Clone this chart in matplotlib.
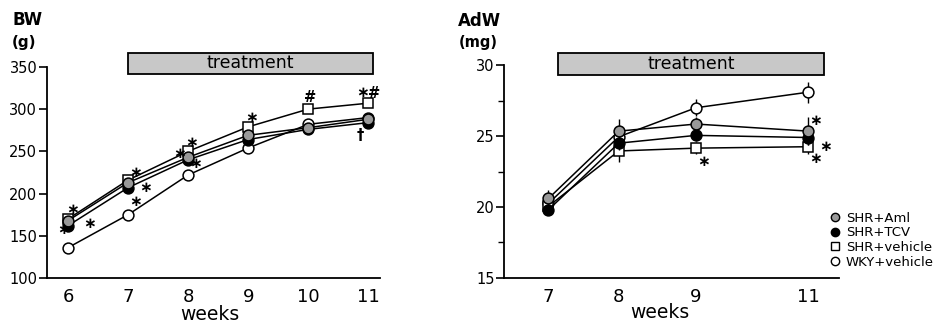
import matplotlib
matplotlib.use('Agg')
import matplotlib.pyplot as plt
from matplotlib.patches import Rectangle
from matplotlib.lines import Line2D

plt.rcParams['font.family'] = ['DejaVu Sans']

# ---- data: body weight (g) ----
bw_weeks = [6, 7, 8, 9, 10, 11]
bw_aml = [168, 213, 243, 269, 278, 288]
bw_tcv = [162, 207, 240, 264, 276, 284]
bw_veh = [170, 216, 250, 279, 300, 307]
bw_wky = [136, 175, 222, 254, 282, 290]

# ---- data: adipose weight (mg) ----
adw_weeks = ['7', '8', '9', '11']
adw_aml = [20.6, 25.35, 25.85, 25.35]
adw_tcv = [19.8, 24.5, 25.05, 24.9]
adw_veh = [20.05, 23.95, 24.15, 24.25]
adw_wky = [20.25, 24.95, 27.0, 28.1]
adw_aml_err = [0.6, 0.85, 0.5, 1.0]
adw_tcv_err = [0.4, 0.5, 0.4, 0.5]
adw_veh_err = [0.5, 0.8, 0.4, 0.5]
adw_wky_err = [0.5, 0.5, 0.6, 0.75]

labels = ['SHR+Aml', 'SHR+TCV', 'SHR+vehicle', 'WKY+vehicle']

# significance marks: (x, y, symbol)
bw_marks = [(6.08, 181, '∗'), (5.93, 158, '∗'), (6.36, 165, '∗'),
            (7.13, 225, '∗'), (7.3, 207, '∗'), (7.12, 191, '∗'),
            (8.05, 260, '∗'), (7.85, 247, '∗'), (8.13, 236, '∗'),
            (9.05, 290, '∗'), (10.03, 314, '#'), (10.9, 320, '∗'),
            (11.09, 318, '#'), (10.86, 269, '†')]
adw_marks = [(2.21, 23.2, '∗'), (3.80, 26.1, '∗'), (3.94, 24.3, '∗'),
             (3.80, 23.4, '∗')]

# order: WKY drawn first, gray on top
styles = {
    'WKY+vehicle': dict(marker='o', mfc='white', z=3),
    'SHR+vehicle': dict(marker='s', mfc='white', z=4),
    'SHR+TCV': dict(marker='o', mfc='black', z=5),
    'SHR+Aml': dict(marker='o', mfc='#999999', z=6),
}

fig = plt.figure(figsize=(9.39, 3.23), dpi=100)
ax1 = fig.add_axes([0.050, 0.139, 0.355, 0.654])
ax2 = fig.add_axes([0.537, 0.140, 0.356, 0.658])

for ax in (ax1, ax2):
    for s in ('top', 'right'):
        ax.spines[s].set_visible(False)
    for s in ('left', 'bottom'):
        ax.spines[s].set_linewidth(1.3)
    ax.tick_params(axis='x', length=0, pad=7, labelsize=13)
    ax.tick_params(axis='y', length=6, width=1.2, pad=1, labelsize=10.5)

# ---- left panel ----
bw = {'SHR+Aml': bw_aml, 'SHR+TCV': bw_tcv, 'SHR+vehicle': bw_veh, 'WKY+vehicle': bw_wky}
for name in ['WKY+vehicle', 'SHR+vehicle', 'SHR+TCV', 'SHR+Aml']:
    st = styles[name]
    ms = 7 if st['marker'] == 's' else 7.8
    ax1.plot(bw_weeks, bw[name], color='black', lw=1.1, marker=st['marker'],
             ms=ms, mfc=st['mfc'], mec='black', mew=1.1, zorder=st['z'])
ax1.set_xlim(5.65, 11.2)
ax1.set_ylim(100, 350)
ax1.set_xticks(bw_weeks)
ax1.set_yticks([100, 150, 200, 250, 300, 350])
for x, y, t in bw_marks:
    ax1.text(x, y, t, ha='center', va='center', fontsize=10.5 if t != '∗' else 11,
             fontweight='bold', zorder=10)
ax1.add_patch(Rectangle((7, 342), 4.08, 24.5, facecolor='#c8c8c8', edgecolor='black',
                        lw=1.3, clip_on=False, zorder=1))
ax1.text(9.04, 354, 'treatment', ha='center', va='center', fontsize=12.5)

# ---- right panel ----
xpos = [0, 1, 2.1, 3.7]
adw = {'SHR+Aml': (adw_aml, adw_aml_err), 'SHR+TCV': (adw_tcv, adw_tcv_err),
       'SHR+vehicle': (adw_veh, adw_veh_err), 'WKY+vehicle': (adw_wky, adw_wky_err)}
for name in ['WKY+vehicle', 'SHR+vehicle', 'SHR+TCV', 'SHR+Aml']:
    st = styles[name]
    vals, err = adw[name]
    ms = 7 if st['marker'] == 's' else 7.8
    ax2.errorbar(xpos, vals, yerr=err, color='black', lw=1.1, elinewidth=1.0,
                 capsize=0, marker=st['marker'], ms=ms, mfc=st['mfc'],
                 mec='black', mew=1.1, zorder=st['z'])
ax2.set_xlim(-0.63, 4.13)
ax2.set_ylim(15, 30)
ax2.set_xticks(xpos)
ax2.set_xticklabels(adw_weeks)
ax2.set_yticks([15, 20, 25, 30])
ax2.set_yticks([17.5, 22.5, 27.5], minor=True)
ax2.tick_params(axis='y', which='minor', length=4, width=1.0)
for x, y, t in adw_marks:
    ax2.text(x, y, t, ha='center', va='center', fontsize=11, fontweight='bold', zorder=10)
ax2.add_patch(Rectangle((0.14, 29.31), 3.79, 1.56, facecolor='#c8c8c8', edgecolor='black',
                        lw=1.3, clip_on=False, zorder=1))
ax2.text(2.03, 30.1, 'treatment', ha='center', va='center', fontsize=12.5)

# legend
handles = []
for name in labels:
    st = styles[name]
    handles.append(Line2D([], [], ls='none', marker=st['marker'], ms=6,
                          mfc=st['mfc'], mec='black', mew=1.0))
fig.legend(handles, labels, loc='upper left', bbox_to_anchor=(0.884, 0.344),
           frameon=False, fontsize=9.5, handlelength=0.8, handletextpad=0.4,
           labelspacing=0.12, borderpad=0, borderaxespad=0)

# axis titles
fig.text(12 / 939, 1 - 20 / 323, 'BW', fontsize=12, fontweight='bold', va='center')
fig.text(12 / 939, 1 - 42 / 323, '(g)', fontsize=11, fontweight='bold', va='center')
fig.text(458 / 939, 1 - 21 / 323, 'AdW', fontsize=12, fontweight='bold', va='center')
fig.text(459 / 939, 1 - 42 / 323, '(mg)', fontsize=10.5, fontweight='bold', va='center')
fig.text(210 / 939, 1 - 314 / 323, 'weeks', fontsize=13.5, ha='center', va='center')
fig.text(660 / 939, 1 - 313 / 323, 'weeks', fontsize=13.5, ha='center', va='center')

fig.savefig('out.png', dpi=100)
